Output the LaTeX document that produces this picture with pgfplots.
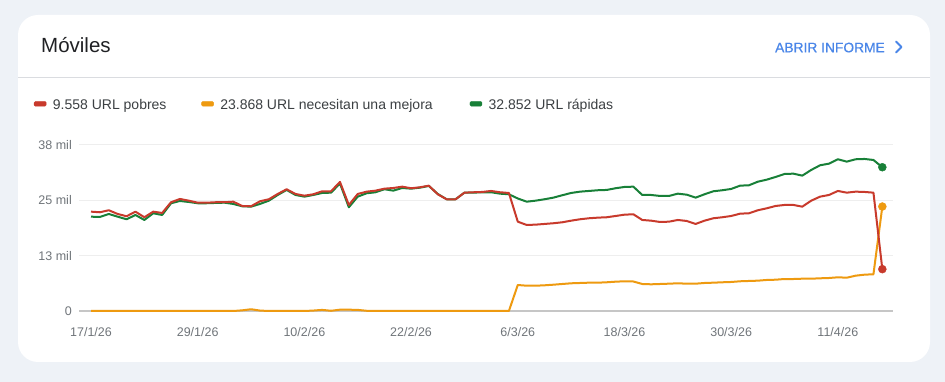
\documentclass[border=0pt]{standalone}
\usepackage{pgfplots}
\pgfplotsset{compat=1.18}
\usepackage{pgfplotstable}
\usepackage{fontspec}
\setmainfont{Liberation Sans}
\newfontfamily\linkfont[FakeBold=0.6]{Liberation Sans}
\definecolor{bgout}{HTML}{EEF2F7}
\definecolor{sepc}{HTML}{DADCE0}
\definecolor{gridc}{HTML}{EEEEEE}
\definecolor{basec}{HTML}{C6C6C6}
\definecolor{poorc}{HTML}{C83A2C}
\definecolor{needc}{HTML}{EE9A10}
\definecolor{goodc}{HTML}{188038}
\definecolor{tickc}{HTML}{70757A}
\definecolor{titlec}{HTML}{202124}
\definecolor{legc}{HTML}{3C4043}
\definecolor{linkc}{HTML}{4A86E8}
\pgfplotstableread{
d r o g
0 22.70 0 21.55
1 22.56 0 21.49
2 23.02 0 22.17
3 22.17 0 21.55
4 21.65 0 20.96
5 22.70 0 21.94
6 21.42 0 20.80
7 22.70 0 22.33
8 22.40 0 21.94
9 24.85 0 24.62
10 25.60 0 25.14
11 25.21 0 24.91
12 24.75 0 24.62
13 24.75 0 24.62
14 24.85 0 24.69
15 24.85 0 24.75
16 24.98 0 24.46
17 24.00 0.15 23.93
18 23.93 0.40 23.84
19 25.07 0.10 24.46
20 25.53 0 25.21
21 26.74 0 26.51
22 27.82 0 27.66
23 26.74 0 26.51
24 26.35 0 26.13
25 26.67 0.10 26.51
26 27.36 0.25 26.97
27 27.36 0.05 27.04
28 29.49 0.30 29.14
29 24.23 0.30 23.70
30 26.74 0.25 26.13
31 27.27 0.05 26.90
32 27.50 0 27.13
33 27.95 0 27.82
34 28.11 0 27.50
35 28.41 0 28.11
36 28.05 0 27.95
37 28.27 0 28.18
38 28.64 0 28.57
39 26.67 0 26.74
40 25.53 0 25.53
41 25.53 0 25.53
42 27.04 0 27.04
43 27.13 0 27.04
44 27.20 0 27.13
45 27.43 0 27.13
46 27.13 0 26.81
47 26.97 0 26.67
48 20.41 5.94 25.71
49 19.66 5.78 24.98
50 19.73 5.78 25.21
51 19.89 5.87 25.53
52 20.05 6.01 25.90
53 20.27 6.17 26.45
54 20.64 6.33 26.97
55 20.96 6.40 27.27
56 21.19 6.47 27.43
57 21.33 6.47 27.59
58 21.42 6.56 27.66
59 21.71 6.70 28.05
60 22.01 6.79 28.34
61 22.10 6.74 28.41
62 20.80 6.17 26.51
63 20.64 6.10 26.51
64 20.34 6.17 26.29
65 20.41 6.24 26.29
66 20.80 6.33 26.81
67 20.57 6.24 26.58
68 19.89 6.24 25.90
69 20.64 6.40 26.67
70 21.19 6.47 27.36
71 21.42 6.56 27.59
72 21.71 6.63 27.89
73 22.24 6.79 28.64
74 22.33 6.86 28.73
75 23.02 6.93 29.55
76 23.47 7.09 30.01
77 24.00 7.15 30.63
78 24.23 7.31 31.31
79 24.23 7.31 31.38
80 23.84 7.38 30.93
81 25.21 7.38 32.23
82 26.13 7.47 33.30
83 26.51 7.54 33.67
84 27.43 7.70 34.67
85 27.04 7.61 34.13
86 27.27 8.07 34.67
87 27.20 8.30 34.74
88 27.04 8.39 34.51
89 9.558 23.868 32.852
}\data
\begin{document}
\begin{tikzpicture}
\fill[bgout] (0pt,0pt) rectangle (945pt,382pt);
\useasboundingbox (0pt,0pt) rectangle (945pt,382pt);
\fill[white, rounded corners=20pt] (18pt,20pt) rectangle (930pt,367pt);
\draw[sepc, line width=1pt] (18pt,304pt) -- (930pt,304pt);
\node[anchor=base west, inner sep=0pt, font=\fontsize{20.5}{24}\selectfont, text=titlec] at (41pt,329pt) {Móviles};
\node[anchor=base east, inner sep=0pt, font=\linkfont\fontsize{13.8}{16}\selectfont, text=linkc] at (885pt,329.7pt) {ABRIR INFORME};
\draw[linkc, line width=2pt, line cap=round, line join=round] (896pt,340.5pt) -- (901.5pt,335pt) -- (896pt,329.5pt);
\begin{axis}[
  at={(79pt,71pt)}, anchor=south west,
  scale only axis, width=814pt, height=166.3pt,
  xmin=-1.35, xmax=90.2, ymin=0, ymax=38,
  axis line style={draw=none},
  major tick length=0pt,
  xtick={0,12,24,36,48,60,72,84},
  xticklabels={17/1/26,29/1/26,10/2/26,22/2/26,6/3/26,18/3/26,30/3/26,11/4/26},
  ytick={12.6667,25.3333,38},
  yticklabels={13 mil,25 mil,38 mil},
  extra y ticks={0}, extra y tick labels={0},
  extra y tick style={grid style={draw=basec, line width=2pt}},
  ymajorgrids, grid style={draw=gridc, line width=1pt},
  tick label style={font=\fontsize{12.5}{15}\selectfont, text=tickc},
  yticklabel style={anchor=east, inner sep=0pt, xshift=-7pt},
  xticklabel style={anchor=base, inner sep=0pt, yshift=-25.7pt},
  clip=false,
  legend columns=3,
  legend style={at={(-0.05528,1.2399)}, anchor=west, draw=none, fill=none,
    inner sep=0pt, outer sep=0pt, row sep=0pt,
    nodes={inner sep=0pt, anchor=base west, font=\fontsize{14}{16}\selectfont, text=legc},
    /tikz/every odd column/.append style={column sep=6.5pt},
    /tikz/every even column/.append style={column sep=0pt}},
  legend image code/.code={\fill[#1, rounded corners=1.2pt] (0pt,2.9pt) rectangle (12pt,7.6pt);},
]
\addlegendimage{poorc, fill=poorc}
\addlegendentry{\raisebox{0pt}[10pt][3pt]{\makebox[148.5pt][l]{9.558 URL pobres}}}
\addlegendimage{needc, fill=needc}
\addlegendentry{\raisebox{0pt}[10pt][3pt]{\makebox[249.5pt][l]{23.868 URL necesitan una mejora}}}
\addlegendimage{goodc, fill=goodc}
\addlegendentry{\raisebox{0pt}[10pt][3pt]{\makebox[125pt][l]{32.852 URL rápidas}}}
\addplot[needc, line width=2pt, line join=round, forget plot] table[x=d, y=o] {\data};
\addplot[goodc, line width=2pt, line join=round, forget plot] table[x=d, y=g] {\data};
\addplot[poorc, line width=2pt, line join=round, forget plot] table[x=d, y=r] {\data};
\addplot[needc, only marks, mark=*, mark size=4pt, forget plot] coordinates {(89,23.868)};
\addplot[goodc, only marks, mark=*, mark size=4pt, forget plot] coordinates {(89,32.852)};
\addplot[poorc, only marks, mark=*, mark size=4pt, forget plot] coordinates {(89,9.558)};
\end{axis}
\end{tikzpicture}
\end{document}
